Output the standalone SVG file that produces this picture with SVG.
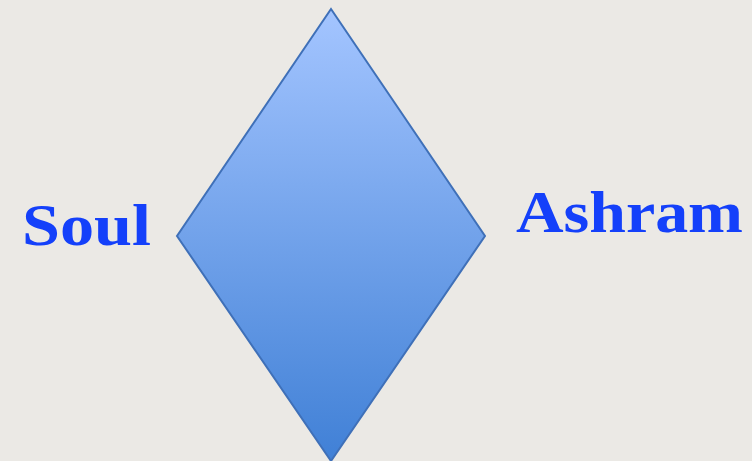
<svg xmlns="http://www.w3.org/2000/svg" width="752" height="461" viewBox="0 0 752 461">
<defs>
<linearGradient id="g" x1="0" y1="0" x2="0" y2="1">
<stop offset="0" stop-color="#A4C5FF"/>
<stop offset="1" stop-color="#4080D6"/>
</linearGradient>
<style>
.lbl{font-family:"Liberation Serif","DejaVu Serif",serif;font-weight:bold;font-size:60px;fill:#1440FA}
</style>
</defs>
<rect width="752" height="461" fill="#EBE9E5"/>
<g id="diamond">
<polygon points="331,9 485,236 331,461 177,236" fill="url(#g)" stroke="#3F70B8" stroke-width="2"/>
</g>
<g id="soul">
<text class="lbl" x="22" y="245" textLength="129" lengthAdjust="spacingAndGlyphs">Soul</text>
</g>
<g id="ashram">
<text class="lbl" x="516" y="232" textLength="227" lengthAdjust="spacingAndGlyphs">Ashram</text>
</g>
<g id="connectors"/>
</svg>
